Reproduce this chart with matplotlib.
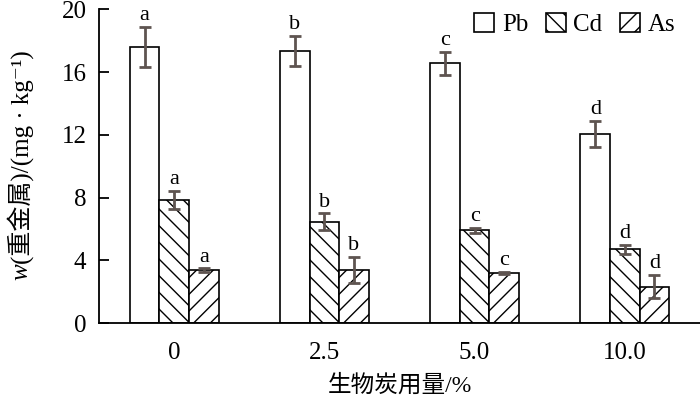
import numpy as np
import matplotlib
matplotlib.use("Agg")
import matplotlib.pyplot as plt
from matplotlib.patches import Patch

plt.rcParams['font.family'] = ['Liberation Serif', 'Noto Sans CJK SC', 'DejaVu Serif']
plt.rcParams['hatch.linewidth'] = 1.0

doses = ["0", "2.5", "5.0", "10.0"]
metals = ["Pb", "Cd", "As"]
pb = [17.6, 17.35, 16.55, 12.05]
cd = [7.85, 6.45, 5.92, 4.7]
as_ = [3.38, 3.38, 3.18, 2.32]
pb_err = [1.3, 0.95, 0.75, 0.85]
cd_err = [0.6, 0.55, 0.15, 0.3]
as_err = [0.12, 0.85, 0.08, 0.75]
pb_sig = ["a", "b", "c", "d"]
cd_sig = ["a", "b", "c", "d"]
as_sig = ["a", "b", "c", "d"]

values = [pb, cd, as_]
errors = [pb_err, cd_err, as_err]
sigs = [pb_sig, cd_sig, as_sig]
hatches = ["", "\\\\", "//"]

fig = plt.figure(figsize=(7.0, 3.98), dpi=100)
ax = fig.add_axes([0.1414, 0.1884, 0.8586, 0.788])

x = np.arange(len(doses))
w = 0.197
err_color = "#5e5450"
for i in range(3):
    pos = x + (i - 1) * w
    ax.bar(pos, values[i], width=w, color="white", edgecolor="black",
           linewidth=1.2, hatch=hatches[i], label=metals[i])
    ax.errorbar(pos, values[i], yerr=errors[i], fmt="none", ecolor=err_color,
                elinewidth=2, capsize=4, capthick=2)
    for p, v, e, s in zip(pos, values[i], errors[i], sigs[i]):
        ax.text(p, v + e + 0.1, s, ha="center", va="bottom", fontsize=16)

ax.set_xlim(-0.5, 3.5)
ax.set_ylim(0, 20)
ax.set_yticks([0, 4, 8, 12, 16, 20])
ax.set_xticks(x)
ax.set_xticklabels(doses)
ax.tick_params(axis="y", direction="in", length=7, width=1.3, labelsize=18, pad=9)
ax.tick_params(axis="x", length=0, labelsize=18, pad=14)
ax.spines["top"].set_visible(False)
ax.spines["right"].set_visible(False)
ax.spines["left"].set_linewidth(1.3)
ax.spines["bottom"].set_linewidth(1.3)

ax.set_xlabel("生物炭用量/%", fontsize=17, labelpad=7)

fig.text(0.03, 0.337, "w", style="italic", fontsize=18, rotation=90,
         rotation_mode="anchor", ha="right", va="center")
fig.text(0.03, 0.337, "(重金属)/(mg · kg⁻¹)", fontsize=18, rotation=90,
         rotation_mode="anchor", ha="left", va="center")

handles = [Patch(facecolor="white", edgecolor="black", hatch=h, linewidth=1.2)
           for h in hatches]
ax.legend(handles, metals, loc="upper right", ncol=3, frameon=False,
          fontsize=18, handlelength=0.8, handleheight=0.8, handletextpad=0.3,
          columnspacing=0.7, bbox_to_anchor=(0.975, 1.02), borderaxespad=0)

fig.savefig("out.png", dpi=100)
